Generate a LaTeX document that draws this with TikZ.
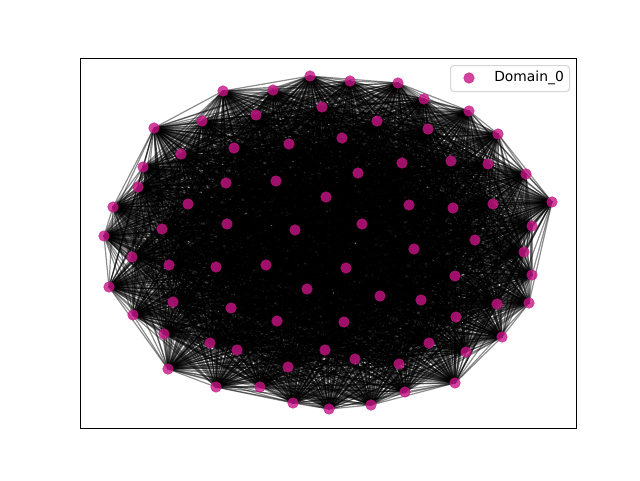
\documentclass[tikz,border=0pt]{standalone}
\usepackage{fontspec}
\setmainfont{DejaVu Sans}
\definecolor{mvr}{RGB}{199,21,133}
\definecolor{legedge}{RGB}{204,204,204}
\tikzset{
  edge/.style={draw=black, line width=0.9pt, draw opacity=0.45},
  dot/.style={circle, fill=mvr, fill opacity=0.8, draw=mvr, draw opacity=0.8, line width=0.3pt, inner sep=0pt, minimum size=8pt},
  frame/.style={draw=black, line width=0.75pt},
  legbox/.style={draw=legedge, line width=0.8pt, rounded corners=2.5pt, fill=white, fill opacity=0.8, draw opacity=0.8, text opacity=1}
}
\begin{document}
\begin{tikzpicture}[x=0.75pt,y=-0.75pt]
\useasboundingbox (0,0) rectangle (640,480);
\fill[white] (0,0) rectangle (640,480);
\foreach \i/\x/\y in {
1/310/76, 2/273/90, 3/223/91, 4/322/107, 5/256/115, 6/202/121, 7/154/128, 8/234/148,
9/289/144, 10/181/154, 11/143/167, 12/138/187, 13/226/183, 14/276/181, 15/326/197, 16/113/207,
17/188/204, 18/227/224, 19/295/230, 20/162/229, 21/104/236, 22/350/81, 23/398/83, 24/424/99,
25/469/111, 26/498/134, 27/377/121, 28/428/129, 29/342/138, 30/402/163, 31/451/161, 32/488/164,
33/526/174, 34/358/173, 35/552/202, 36/409/205, 37/453/208, 38/493/204, 39/362/224, 40/532/226,
41/475/240, 42/414/249, 43/132/257, 44/169/265, 45/216/267, 46/266/265, 47/109/287, 48/307/289,
49/173/302, 50/231/308, 51/277/321, 52/133/315, 53/164/334, 54/210/343, 55/237/350, 56/325/350,
57/168/369, 58/288/367, 59/216/387, 60/260/387, 61/293/403, 62/329/409, 63/524/252, 64/346/268,
65/532/275, 66/455/276, 67/380/296, 68/421/300, 69/529/303, 70/497/304, 71/344/322, 72/456/317,
73/502/337, 74/429/343, 75/466/352, 76/355/359, 77/399/364, 78/455/383, 79/405/392, 80/371/405}
  { \coordinate (n\i) at (\x,\y); }
\foreach \i [evaluate=\i as \k using int(\i+1)] in {1,...,79} {
  \foreach \j in {\k,...,80} {
    \draw[edge] (n\i) -- (n\j);
  }
}
\foreach \i in {1,...,80} { \node[dot] (d\i) at (n\i) {}; }
\draw[frame] (80,58) rectangle (576,428);
\node[legbox, minimum width=89.25pt, minimum height=19.5pt, anchor=north west] (leg) at (450,65) {};
\node[dot] (legdot) at (469,78) {};
\node[anchor=west, font=\fontsize{10.4}{12}\selectfont, inner sep=0pt] (legtxt) at (494,78) {Domain\_0};
\end{tikzpicture}
\end{document}
